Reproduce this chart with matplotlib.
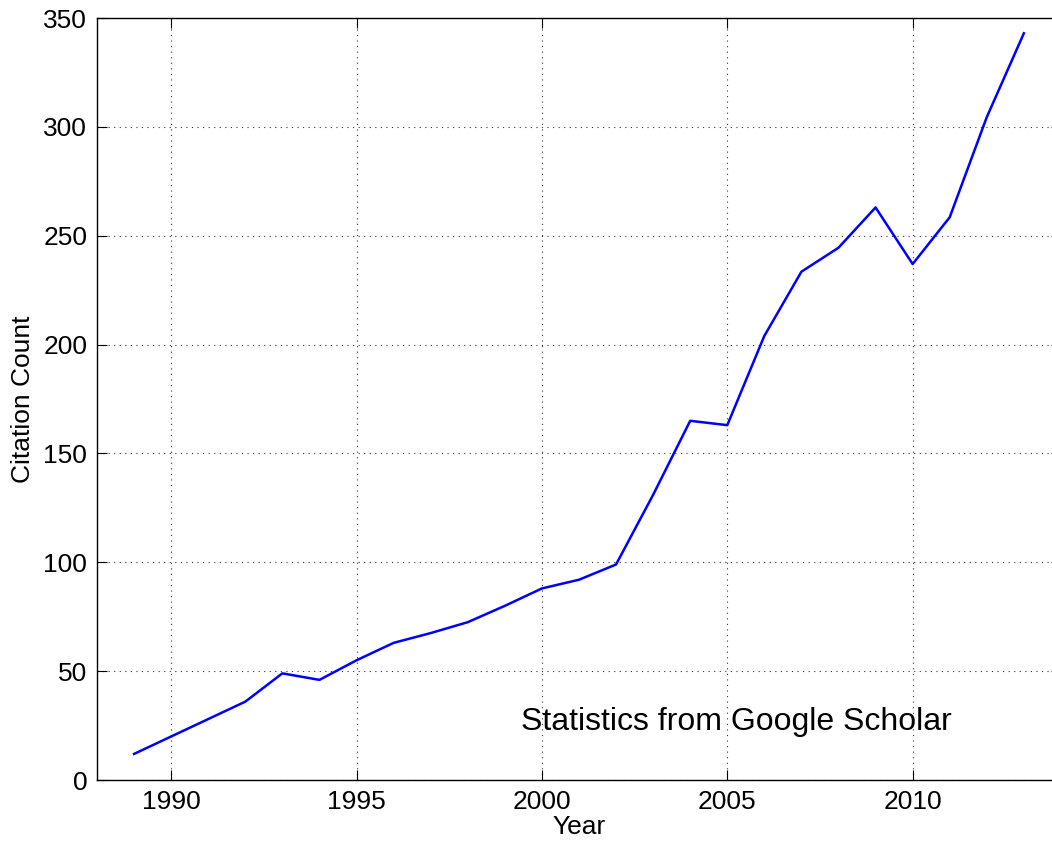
import matplotlib
matplotlib.use('Agg')
import matplotlib.pyplot as plt

years = list(range(1989, 2014))
citations = [12, 20, 28, 36, 49, 46, 55, 63, 67.5, 72.5, 80, 88, 92, 99,
             131, 165, 163, 204, 233.5, 244.5, 263, 237, 258.5, 304.5, 343]
x_ticks = [1990, 1995, 2000, 2005, 2010]
y_ticks = [0, 50, 100, 150, 200, 250, 300, 350]

plt.rcParams['font.family'] = ['Liberation Sans', 'DejaVu Sans']

fig = plt.figure(figsize=(10.52, 8.43), dpi=100)
# axes runs off the right edge of the figure, like the original
ax = fig.add_axes([0.0922, 0.0747, 0.9163, 0.9039])

ax.plot(years, citations, color='#0000ff', lw=1.8)

ax.set_xlim(1988, 2014)
ax.set_ylim(0, 350)
ax.set_xticks(x_ticks)
ax.set_yticks(y_ticks)
ax.tick_params(direction='in', length=7, width=0.8, labelsize=19,
               top=True, right=True, pad=7)
ax.grid(True, linestyle=(0, (1, 4)), color='#333333', lw=0.8)

for s in ax.spines.values():
    s.set_linewidth(1.0)

ax.set_xlabel('Year', fontsize=19, labelpad=1)
ax.set_ylabel('Citation Count', fontsize=19, labelpad=6)

ax.text(1999.43, 23, 'Statistics from Google Scholar', fontsize=23,
        ha='left', va='baseline')

fig.savefig('out.png', dpi=100)
